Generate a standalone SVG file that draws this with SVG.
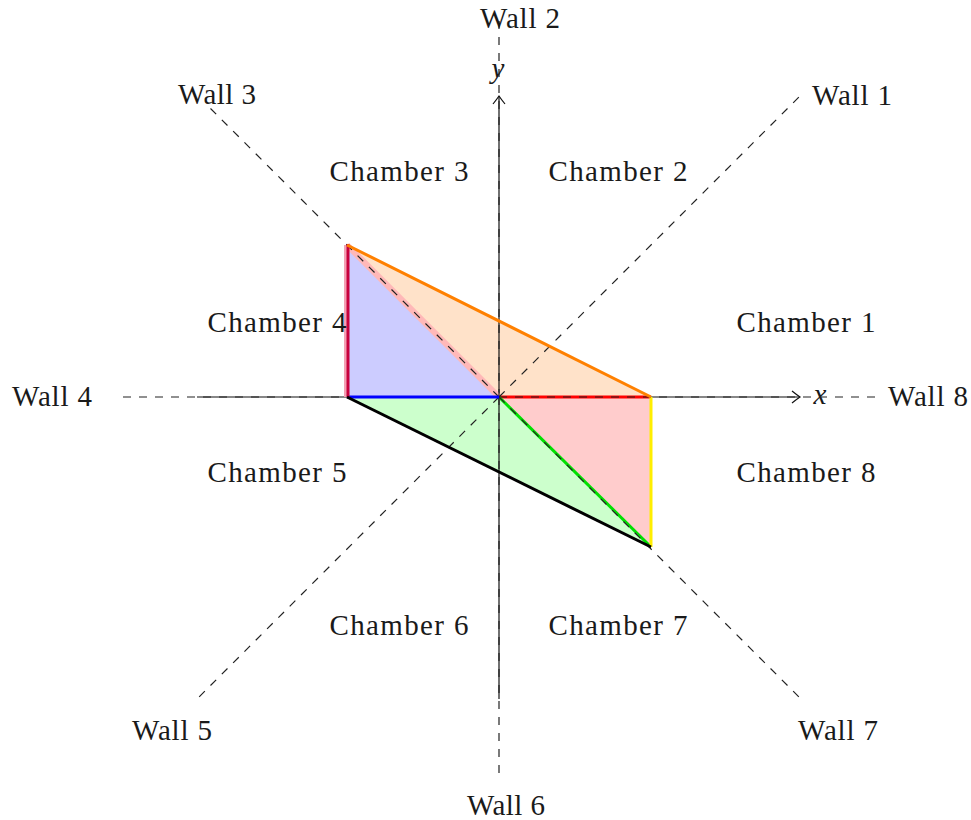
<svg xmlns="http://www.w3.org/2000/svg" width="971" height="820" viewBox="0 0 971 820">
<style>
text{font-family:"Liberation Serif","DejaVu Serif",serif;font-size:29px;fill:#1a1a1a;text-anchor:middle}
.it{font-style:italic}
.wall{stroke:#222;stroke-width:1.2;stroke-dasharray:8 8;fill:none}
.axis{stroke:#111;stroke-width:1.2;fill:none}
.edge{stroke-width:3;fill:none;stroke-linecap:butt}
</style>
<defs>
<marker id="arr" markerWidth="12" markerHeight="14" refX="10" refY="7" orient="auto" markerUnits="userSpaceOnUse">
<path d="M2,1 Q7,5 10,7 Q7,9 2,13" fill="none" stroke="#111" stroke-width="1.2"/>
</marker>
</defs>
<rect width="971" height="820" fill="#fff"/>
<g id="regions">
<polygon points="499,397 347,397 347,245" fill="#ccccff"/>
<polygon points="499,397 347,245 651,397" fill="#ffe2c9"/>
<polygon points="499,397 347,397 651,547" fill="#ccffcc"/>
<polygon points="499,397 651,397 651,547" fill="#ffcccc"/>
</g>
<g id="axes">
<line class="axis" x1="197" y1="397" x2="800" y2="397" marker-end="url(#arr)"/>
<line class="axis" x1="499" y1="699" x2="499" y2="96" marker-end="url(#arr)"/>
<text class="it" x="820" y="404">x</text>
<text class="it" x="498" y="78">y</text>
</g>
<g id="connectors">
<line class="wall" x1="499" y1="397" x2="121" y2="397"/>
<line x1="347" y1="245" x2="499" y2="397" stroke="#ffb8b8" stroke-width="6"/>
<line x1="346" y1="245" x2="346" y2="397" stroke="#f4a0b4" stroke-width="4"/>
<line class="edge" x1="499" y1="397" x2="651" y2="397" stroke="#ff0000"/>
<line class="edge" x1="499" y1="397" x2="651" y2="547" stroke="#00e000"/>
<line class="edge" x1="651" y1="397" x2="651" y2="547" stroke="#ffee00"/>
<line class="wall" x1="499" y1="397" x2="801" y2="95"/>
<line class="wall" x1="499" y1="397" x2="499" y2="20"/>
<line class="wall" x1="499" y1="397" x2="206" y2="104"/>
<line class="wall" x1="499" y1="397" x2="197" y2="699"/>
<line class="wall" x1="499" y1="397" x2="499" y2="774"/>
<line class="wall" x1="499" y1="397" x2="801" y2="699"/>
<line class="wall" x1="499" y1="397" x2="877" y2="397"/>
<line class="edge" x1="347" y1="397" x2="499" y2="397" stroke="#0000ff"/>
<line class="edge" x1="348" y1="244" x2="348" y2="397" stroke="#c8003c" stroke-width="2.6"/>
<line class="edge" x1="347" y1="245" x2="651" y2="397" stroke="#ff8000"/>
<line class="edge" x1="347" y1="397" x2="651" y2="547" stroke="#000"/>
</g>
<g id="wall1"><text x="852" y="105" textLength="80">Wall 1</text></g>
<g id="wall2"><text x="520" y="28" textLength="80">Wall 2</text></g>
<g id="wall3"><text x="217" y="104" textLength="78">Wall 3</text></g>
<g id="wall4"><text x="52" y="406" textLength="80">Wall 4</text></g>
<g id="wall5"><text x="172" y="740" textLength="80">Wall 5</text></g>
<g id="wall6"><text x="506" y="815" textLength="78">Wall 6</text></g>
<g id="wall7"><text x="838" y="740" textLength="80">Wall 7</text></g>
<g id="wall8"><text x="928" y="406" textLength="80">Wall 8</text></g>
<g id="chamber1"><text x="806" y="332" textLength="139">Chamber 1</text></g>
<g id="chamber2"><text x="618" y="181" textLength="139">Chamber 2</text></g>
<g id="chamber3"><text x="399" y="181" textLength="139">Chamber 3</text></g>
<g id="chamber4"><text x="277" y="332" textLength="139">Chamber 4</text></g>
<g id="chamber5"><text x="277" y="482" textLength="139">Chamber 5</text></g>
<g id="chamber6"><text x="399" y="635" textLength="139">Chamber 6</text></g>
<g id="chamber7"><text x="618" y="635" textLength="139">Chamber 7</text></g>
<g id="chamber8"><text x="806" y="482" textLength="139">Chamber 8</text></g>
</svg>
